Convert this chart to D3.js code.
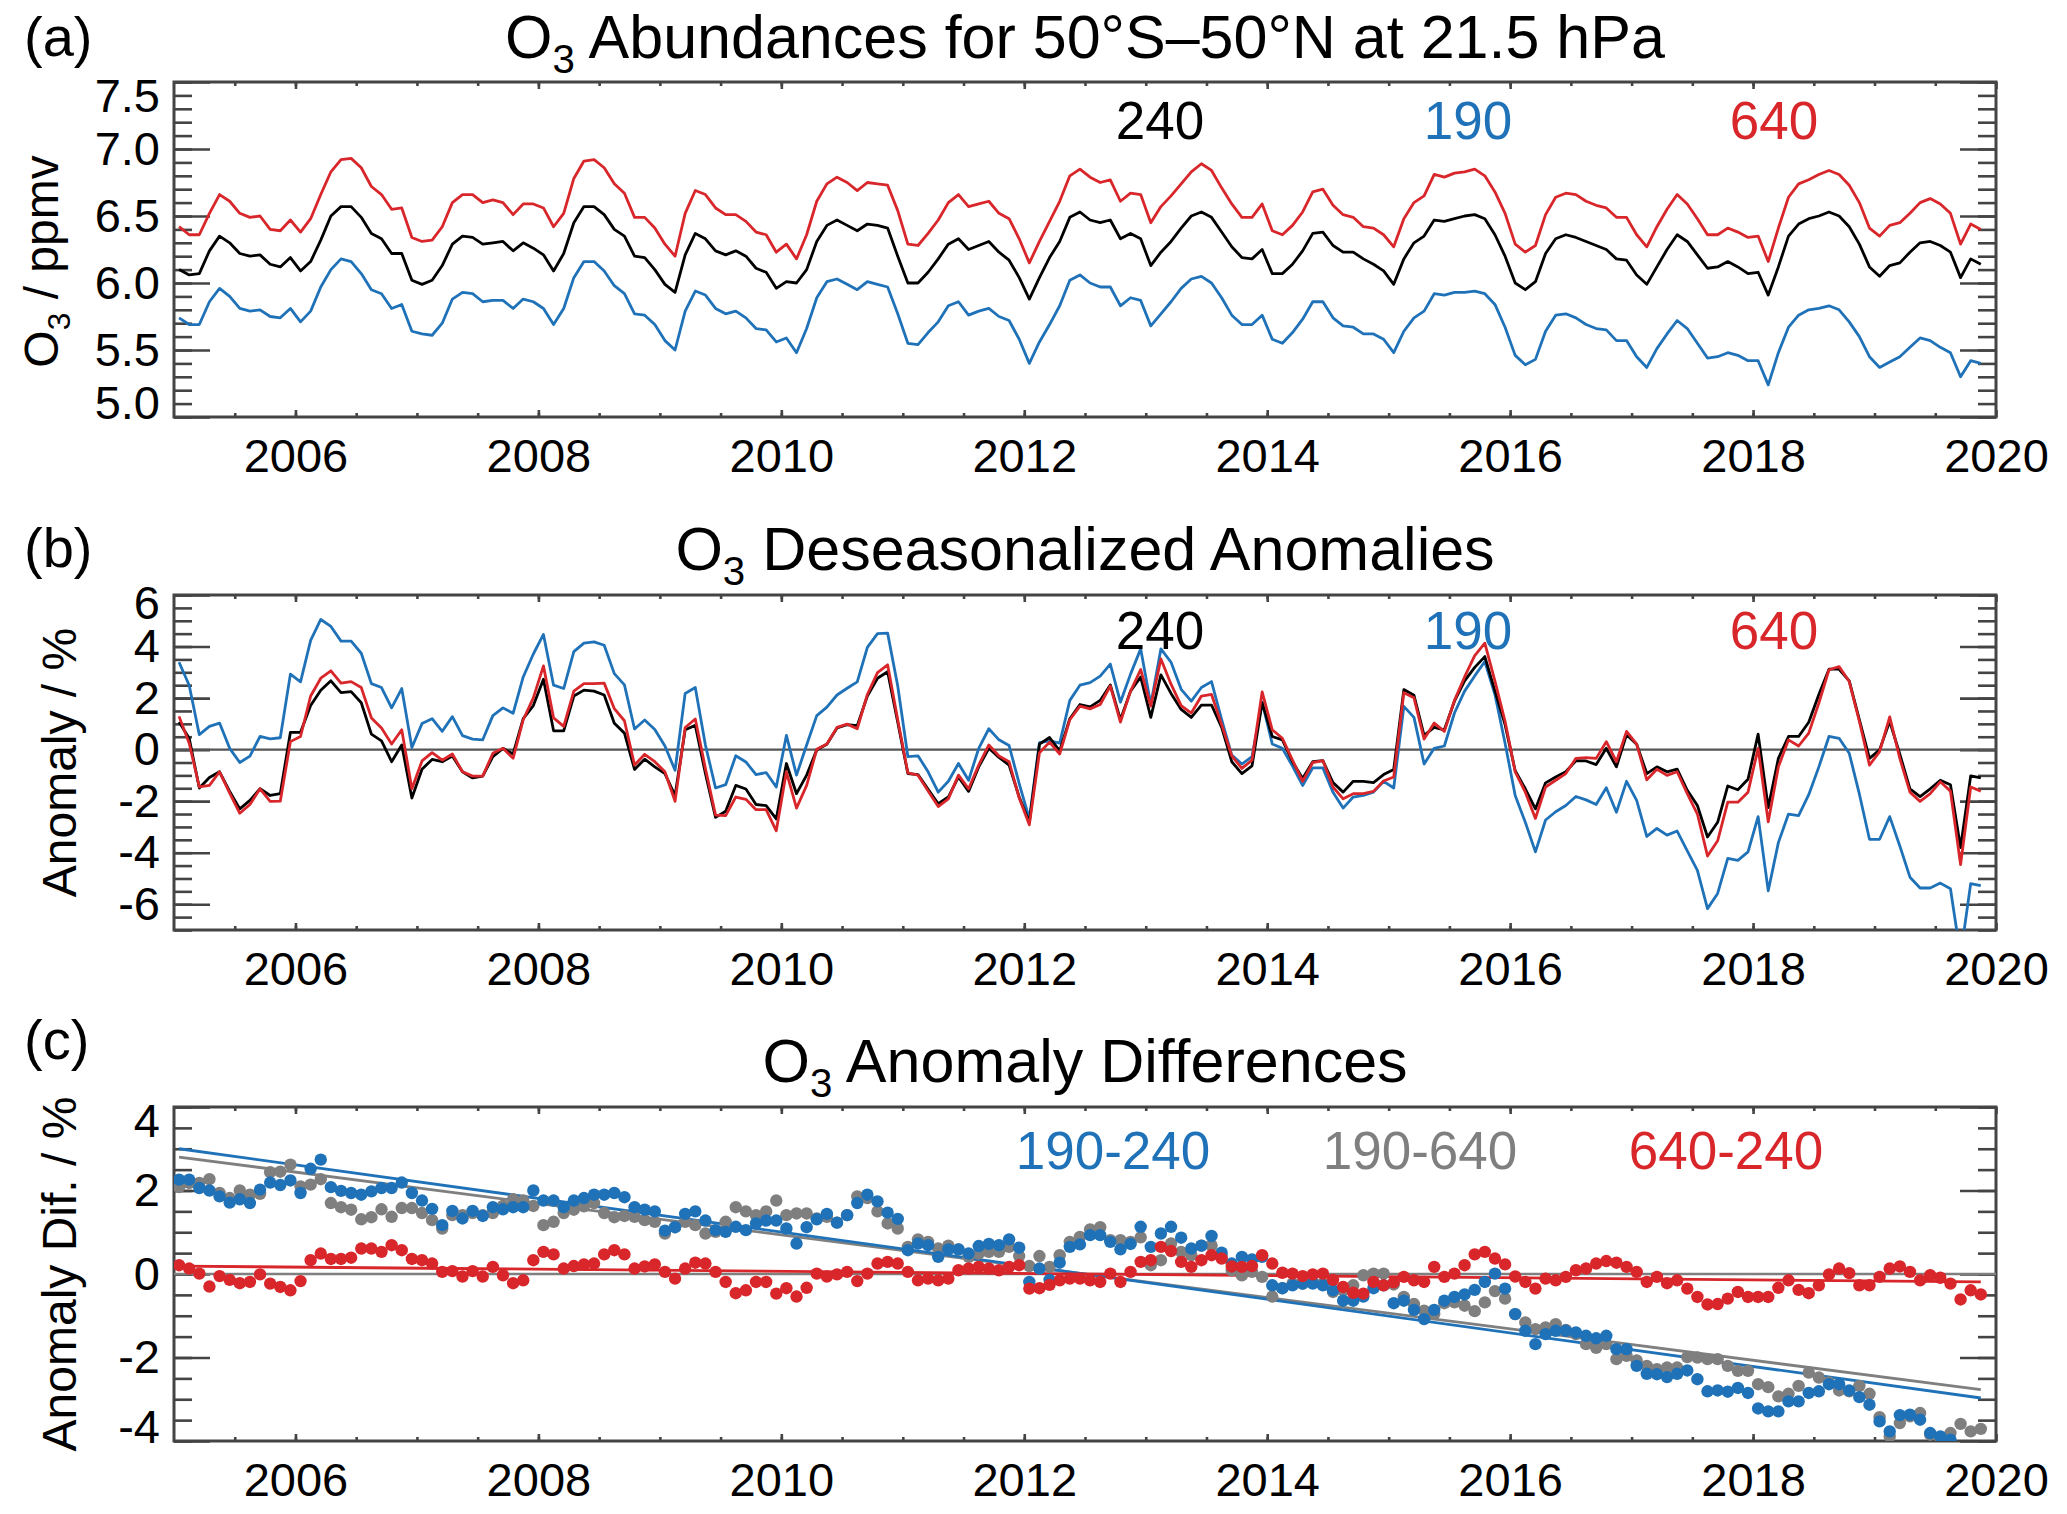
<!DOCTYPE html>
<html>
<head>
<meta charset="utf-8">
<script src="https://cdn.jsdelivr.net/npm/d3@7"></script>
<style>
  body { margin: 0; background: #fff; }
  svg { display: block; font-family: "Liberation Sans", Arial, Helvetica, sans-serif; }
</style>
</head>
<body>
<svg id="vis" width="2067" height="1514"></svg>
<script>
// monthly data, Jan 2005 .. Nov 2019 (179 months)
const startYear = 2005;
const nMonths = 179;

// (a) O3 abundances, ppmv
const abund240 = [6.10,6.06,6.07,6.24,6.35,6.30,6.22,6.20,6.21,6.14,6.12,6.19,6.09,6.16,6.32,6.50,6.57,6.57,6.49,6.37,
  6.33,6.22,6.22,6.02,5.99,6.02,6.13,6.29,6.35,6.34,6.29,6.30,6.31,6.24,6.30,6.26,6.21,6.09,6.22,6.45,
  6.57,6.57,6.51,6.40,6.35,6.20,6.19,6.10,5.99,5.93,6.21,6.37,6.33,6.24,6.21,6.24,6.20,6.11,6.08,5.96,
  6.01,6.00,6.10,6.31,6.43,6.47,6.43,6.39,6.44,6.43,6.41,6.20,6.00,6.00,6.08,6.18,6.29,6.33,6.25,6.28,
  6.31,6.23,6.17,6.04,5.88,6.04,6.19,6.31,6.49,6.53,6.47,6.45,6.47,6.33,6.37,6.33,6.13,6.23,6.31,6.41,
  6.50,6.53,6.49,6.38,6.27,6.19,6.18,6.25,6.07,6.07,6.14,6.24,6.37,6.38,6.28,6.23,6.23,6.18,6.14,6.09,
  5.99,6.18,6.30,6.35,6.47,6.46,6.48,6.50,6.51,6.48,6.36,6.20,6.00,5.95,6.01,6.22,6.33,6.36,6.34,6.31,
  6.28,6.25,6.18,6.17,6.06,5.99,6.12,6.25,6.36,6.31,6.21,6.11,6.12,6.16,6.12,6.07,6.08,5.91,6.12,6.35,
  6.44,6.48,6.50,6.53,6.50,6.42,6.29,6.12,6.05,6.13,6.15,6.23,6.30,6.31,6.28,6.23,6.04,6.18,6.14];
const abund190 = [5.74,5.69,5.69,5.86,5.96,5.90,5.81,5.79,5.80,5.75,5.74,5.81,5.71,5.79,5.97,6.10,6.18,6.16,6.07,5.95,
  5.92,5.81,5.84,5.64,5.62,5.61,5.70,5.88,5.93,5.92,5.86,5.87,5.87,5.81,5.88,5.86,5.81,5.69,5.81,6.04,
  6.16,6.16,6.09,5.98,5.92,5.77,5.76,5.69,5.57,5.50,5.79,5.94,5.91,5.81,5.77,5.79,5.74,5.66,5.65,5.56,
  5.59,5.48,5.66,5.89,6.01,6.03,5.99,5.95,6.01,5.99,5.97,5.77,5.55,5.54,5.63,5.71,5.83,5.86,5.76,5.79,
  5.81,5.75,5.72,5.58,5.40,5.56,5.69,5.83,6.02,6.06,6.00,5.97,5.97,5.83,5.89,5.87,5.68,5.77,5.86,5.96,
  6.03,6.05,6.00,5.89,5.76,5.69,5.69,5.76,5.58,5.55,5.63,5.73,5.86,5.86,5.74,5.68,5.67,5.62,5.62,5.58,
  5.48,5.64,5.74,5.79,5.92,5.91,5.93,5.93,5.94,5.92,5.84,5.67,5.46,5.39,5.43,5.64,5.76,5.77,5.74,5.69,
  5.66,5.65,5.57,5.57,5.45,5.37,5.51,5.62,5.72,5.66,5.55,5.44,5.45,5.48,5.46,5.42,5.42,5.24,5.48,5.67,
  5.76,5.80,5.81,5.83,5.80,5.71,5.60,5.45,5.37,5.41,5.45,5.52,5.59,5.57,5.52,5.48,5.30,5.42,5.40];
const abund640 = [6.42,6.36,6.36,6.52,6.66,6.61,6.52,6.49,6.50,6.40,6.39,6.47,6.38,6.48,6.66,6.83,6.92,6.93,6.86,6.72,
  6.66,6.55,6.56,6.34,6.31,6.32,6.42,6.60,6.66,6.66,6.60,6.62,6.60,6.51,6.59,6.59,6.56,6.42,6.52,6.78,
  6.91,6.92,6.86,6.74,6.67,6.49,6.49,6.41,6.29,6.20,6.52,6.69,6.66,6.56,6.51,6.51,6.46,6.38,6.36,6.23,
  6.29,6.18,6.36,6.61,6.74,6.79,6.75,6.69,6.75,6.74,6.73,6.54,6.29,6.28,6.37,6.47,6.60,6.66,6.57,6.59,
  6.61,6.52,6.48,6.33,6.15,6.31,6.46,6.61,6.80,6.85,6.79,6.75,6.77,6.61,6.67,6.66,6.45,6.57,6.65,6.74,
  6.83,6.89,6.84,6.71,6.59,6.49,6.49,6.59,6.39,6.36,6.43,6.53,6.68,6.70,6.58,6.51,6.49,6.42,6.41,6.36,
  6.27,6.48,6.60,6.65,6.81,6.79,6.82,6.83,6.85,6.80,6.68,6.52,6.29,6.23,6.28,6.51,6.64,6.67,6.66,6.61,
  6.58,6.56,6.49,6.49,6.36,6.27,6.42,6.55,6.66,6.59,6.48,6.36,6.36,6.41,6.38,6.34,6.35,6.16,6.41,6.64,
  6.74,6.77,6.81,6.84,6.81,6.73,6.60,6.41,6.35,6.43,6.45,6.52,6.60,6.63,6.59,6.52,6.29,6.44,6.40];

// (b) deseasonalized anomalies, %
const anom240 = [1.07,0.44,-1.49,-1.08,-0.86,-1.62,-2.30,-1.97,-1.52,-1.78,-1.71,0.67,0.67,1.71,2.30,2.67,2.21,2.25,1.82,0.60,
  0.34,-0.47,0.18,-1.88,-0.76,-0.38,-0.47,-0.25,-0.86,-1.10,-1.03,-0.27,0.05,-0.17,1.20,1.71,2.73,0.73,0.73,2.08,
  2.31,2.27,2.12,1.02,0.64,-0.77,-0.37,-0.67,-0.93,-1.78,0.77,0.94,-0.93,-2.63,-2.39,-1.39,-1.53,-2.13,-2.17,-2.69,
  -0.54,-1.71,-0.99,-0.01,0.21,0.84,0.97,0.93,2.08,2.77,3.02,1.06,-0.93,-0.97,-1.54,-2.10,-1.84,-1.06,-1.62,-0.67,
  0.05,-0.30,-0.60,-1.84,-2.82,0.21,0.47,-0.05,1.20,1.75,1.66,1.91,2.51,1.16,2.27,2.82,1.25,2.90,2.18,1.56,
  1.25,1.73,1.73,0.86,-0.47,-0.93,-0.63,1.82,0.51,0.38,-0.47,-1.12,-0.47,-0.43,-1.28,-1.65,-1.23,-1.23,-1.28,-0.97,
  -0.77,2.33,2.11,0.55,0.86,0.77,1.88,2.67,3.19,3.61,2.27,0.97,-0.82,-1.52,-2.30,-1.29,-1.06,-0.86,-0.43,-0.44,
  -0.58,0.05,-0.67,0.58,0.21,-0.93,-0.67,-0.86,-0.76,-1.58,-2.17,-3.39,-2.82,-1.41,-1.56,-1.15,0.60,-2.25,-0.34,0.51,
  0.51,1.06,2.14,3.12,3.12,2.67,1.16,-0.34,-0.01,1.10,-0.18,-1.52,-1.82,-1.52,-1.19,-1.36,-3.80,-1.02,-1.10];
const anom190 = [3.39,2.50,0.58,0.90,1.03,0.05,-0.50,-0.25,0.51,0.42,0.46,2.93,2.63,4.24,5.05,4.78,4.21,4.21,3.74,2.56,
  2.41,1.62,2.37,0.08,1.01,1.20,0.71,1.28,0.54,0.41,0.38,1.32,1.62,1.41,2.82,3.71,4.47,2.50,2.37,3.80,
  4.13,4.18,4.05,2.95,2.51,0.80,1.15,0.78,0.14,-0.80,2.18,2.41,0.18,-1.49,-1.36,-0.24,-0.48,-0.97,-0.89,-1.45,
  0.55,-0.99,0.18,1.32,1.65,2.12,2.38,2.63,3.97,4.50,4.52,2.47,-0.27,-0.24,-0.86,-1.65,-1.23,-0.54,-1.19,0.05,
  0.81,0.38,0.16,-1.32,-2.69,0.27,0.34,0.25,1.91,2.50,2.60,2.85,3.32,1.84,2.93,3.91,1.75,3.91,3.39,2.34,
  1.88,2.41,2.64,1.16,-0.21,-0.56,-0.27,1.84,0.22,0.05,-0.64,-1.39,-0.71,-0.71,-1.65,-2.27,-1.84,-1.78,-1.65,-1.23,
  -1.49,1.68,1.25,-0.56,0.05,0.14,1.42,2.27,2.86,3.42,2.14,0.25,-1.78,-2.82,-3.97,-2.73,-2.41,-2.17,-1.82,-1.95,
  -2.13,-1.48,-2.43,-1.23,-1.97,-3.37,-3.06,-3.32,-3.16,-3.93,-4.69,-6.17,-5.58,-4.22,-4.30,-3.97,-2.60,-5.48,-3.61,-2.50,
  -2.56,-1.75,-0.67,0.51,0.44,-0.14,-1.72,-3.48,-3.48,-2.60,-3.74,-4.95,-5.37,-5.37,-5.18,-5.40,-8.00,-5.20,-5.28];
const anom640 = [1.29,0.25,-1.45,-1.39,-0.86,-1.69,-2.47,-2.13,-1.52,-2.01,-2.00,0.31,0.51,2.08,2.77,3.06,2.58,2.64,2.41,1.23,
  0.84,0.22,0.77,-1.52,-0.44,-0.12,-0.41,-0.17,-0.86,-1.03,-1.03,-0.14,0.05,-0.34,1.16,2.01,3.25,1.23,0.90,2.27,
  2.56,2.56,2.58,1.59,1.12,-0.60,-0.18,-0.47,-0.86,-2.01,0.86,1.19,-0.73,-2.54,-2.56,-1.84,-1.93,-2.33,-2.33,-3.15,
  -0.86,-2.27,-1.39,0.01,0.22,0.86,0.99,0.81,2.14,2.99,3.29,1.16,-0.90,-0.99,-1.61,-2.21,-1.91,-0.99,-1.52,-0.60,
  0.18,-0.25,-0.47,-1.88,-2.92,-0.12,0.29,-0.17,1.16,1.69,1.58,1.75,2.47,1.07,2.27,3.11,1.69,3.52,2.54,1.71,
  1.42,2.08,2.14,0.97,-0.24,-0.73,-0.41,2.24,0.77,0.44,-0.41,-1.23,-0.50,-0.43,-1.45,-1.91,-1.71,-1.71,-1.62,-1.22,
  -1.06,2.21,2.01,0.41,1.03,0.71,1.91,2.82,3.65,4.13,2.66,1.10,-0.86,-1.65,-2.67,-1.45,-1.19,-0.93,-0.34,-0.31,
  -0.34,0.31,-0.47,0.71,0.21,-1.17,-0.76,-1.00,-0.86,-1.71,-2.50,-4.13,-3.54,-2.04,-2.04,-1.65,0.05,-2.80,-0.67,0.38,
  0.14,0.64,1.81,3.10,3.22,2.64,1.10,-0.60,-0.08,1.27,-0.34,-1.65,-2.01,-1.71,-1.25,-1.61,-4.46,-1.45,-1.61];

// (c) anomaly differences, %
const dif190_240 = [2.26,2.26,2.06,2.00,1.86,1.71,1.79,1.70,2.02,2.19,2.13,2.24,1.94,2.52,2.74,2.08,1.99,1.94,1.90,1.98,
  2.06,2.06,2.19,1.94,1.76,1.56,1.17,1.51,1.33,1.51,1.39,1.60,1.55,1.60,1.60,2.00,1.76,1.76,1.60,1.76,
  1.82,1.90,1.90,1.94,1.84,1.60,1.54,1.50,1.04,1.12,1.44,1.50,1.28,1.05,1.01,1.13,1.05,1.21,1.28,1.28,
  1.09,0.73,1.12,1.31,1.44,1.23,1.41,1.70,1.90,1.74,1.47,1.32,0.57,0.73,0.69,0.41,0.59,0.59,0.49,0.67,
  0.72,0.69,0.83,0.63,-0.19,0.13,-0.14,0.27,0.65,0.71,0.93,0.93,0.77,0.59,0.72,1.13,0.65,0.97,1.13,0.87,
  0.61,0.68,0.91,0.51,0.25,0.41,0.35,0.41,-0.27,-0.34,-0.27,-0.23,-0.23,-0.27,-0.39,-0.64,-0.64,-0.54,-0.34,-0.27,
  -0.70,-0.64,-0.86,-1.08,-0.86,-0.64,-0.55,-0.49,-0.38,-0.19,0.01,-0.35,-0.96,-1.36,-1.68,-1.44,-1.36,-1.36,-1.40,-1.48,
  -1.54,-1.48,-1.80,-1.80,-2.20,-2.39,-2.40,-2.47,-2.39,-2.31,-2.52,-2.81,-2.79,-2.82,-2.73,-2.85,-3.22,-3.29,-3.29,-3.05,
  -3.05,-2.85,-2.81,-2.64,-2.64,-2.79,-2.95,-3.13,-3.53,-3.77,-3.38,-3.37,-3.49,-3.81,-3.89,-3.97,-4.20,-4.30,-4.30];
const dif190_640 = [2.08,2.18,2.18,2.27,1.94,1.82,2.00,1.90,1.92,2.44,2.45,2.62,2.10,2.14,2.27,1.70,1.60,1.54,1.31,1.36,
  1.55,1.37,1.58,1.58,1.46,1.29,1.09,1.41,1.41,1.46,1.41,1.46,1.63,1.79,1.76,1.63,1.17,1.25,1.46,1.54,
  1.62,1.70,1.46,1.36,1.39,1.37,1.29,1.25,0.97,1.12,1.25,1.17,0.97,1.01,1.25,1.60,1.50,1.41,1.50,1.76,
  1.41,1.45,1.45,1.33,1.37,1.23,1.41,1.86,1.82,1.50,1.21,1.09,0.65,0.83,0.77,0.61,0.68,0.59,0.41,0.49,
  0.53,0.53,0.65,0.43,0.19,0.43,0.17,0.45,0.77,0.89,1.07,1.12,0.81,0.81,0.77,0.88,0.21,0.33,0.73,0.53,
  0.45,0.68,0.68,0.41,0.09,-0.03,0.05,-0.07,-0.54,-0.34,-0.23,-0.23,-0.19,-0.23,-0.43,-0.39,-0.27,-0.03,0.01,0.01,
  -0.25,-0.55,-0.72,-0.88,-0.96,-0.70,-0.68,-0.76,-0.89,-0.68,-0.41,-0.59,-0.96,-1.16,-1.32,-1.28,-1.20,-1.34,-1.44,-1.68,
  -1.77,-1.68,-2.04,-1.96,-2.07,-2.20,-2.28,-2.24,-2.24,-1.99,-2.00,-2.04,-2.04,-2.20,-2.32,-2.32,-2.64,-2.71,-2.93,-2.87,
  -2.68,-2.36,-2.48,-2.60,-2.79,-2.81,-2.68,-2.87,-3.43,-3.89,-3.57,-3.41,-3.33,-3.85,-3.93,-3.81,-3.59,-3.77,-3.71];
const dif640_240 = [0.21,0.13,0.01,-0.30,-0.05,-0.14,-0.22,-0.19,-0.01,-0.23,-0.31,-0.39,-0.17,0.33,0.49,0.36,0.36,0.39,0.61,0.61,
  0.53,0.69,0.57,0.36,0.33,0.25,0.05,0.07,-0.06,0.07,-0.06,0.17,-0.03,-0.22,-0.15,0.33,0.53,0.47,0.13,0.19,
  0.23,0.25,0.47,0.57,0.47,0.13,0.18,0.23,0.05,-0.11,0.13,0.27,0.25,0.05,-0.19,-0.46,-0.39,-0.19,-0.19,-0.47,
  -0.34,-0.54,-0.33,0.01,-0.06,-0.01,0.05,-0.17,0.01,0.25,0.29,0.25,0.05,-0.15,-0.11,-0.15,-0.11,0.09,0.13,0.17,
  0.13,0.09,0.17,0.21,-0.35,-0.34,-0.26,-0.15,-0.11,-0.11,-0.15,-0.19,0.01,-0.19,0.05,0.29,0.33,0.65,0.55,0.29,
  0.17,0.33,0.45,0.37,0.18,0.17,0.19,0.45,0.25,0.03,0.01,-0.05,-0.01,0.01,-0.14,-0.31,-0.45,-0.47,-0.19,-0.27,
  -0.20,-0.07,-0.15,-0.19,0.17,-0.07,0.01,0.21,0.47,0.53,0.37,0.23,-0.06,-0.19,-0.35,-0.11,-0.15,-0.07,0.09,0.13,
  0.25,0.31,0.27,0.17,0.05,-0.19,-0.07,-0.22,-0.15,-0.35,-0.55,-0.73,-0.72,-0.59,-0.43,-0.55,-0.55,-0.55,-0.33,-0.15,
  -0.38,-0.46,-0.27,-0.01,0.13,0.02,-0.27,-0.27,-0.07,0.13,0.18,0.05,-0.15,-0.03,-0.09,-0.23,-0.61,-0.39,-0.49];

// linear fits in (c): value at first and last month
const trend190_240 = [3.00, -2.97];
const trend190_640 = [2.80, -2.77];
const trend640_240 = [0.19, -0.19];

// axes
const yearTicks = [2006, 2008, 2010, 2012, 2014, 2016, 2018, 2020];
const ticksA = [5.0, 5.5, 6.0, 6.5, 7.0, 7.5];
const ticksB = [-6, -4, -2, 0, 2, 4, 6];
const ticksC = [-4, -2, 0, 2, 4];

const BLUE = "#1f72b8", RED = "#d8262b", BLACK = "#000", GRAY = "#7f7f7f";
const AXIS = "#444";
const FONT = '"Liberation Sans", Arial, Helvetica, sans-serif';

const months = d3.range(nMonths).map(i => startYear + (i + 0.5) / 12);
const svg = d3.select("#vis");
const x = d3.scaleLinear().domain([2005, 2020]).range([174, 1996]);
const [x0, x1] = x.range();

// text with a subscript "3" after the first character
function o3Text(g, px, py, rest, size, attrs) {
  const t = g.append("text").attr("x", px).attr("y", py)
    .attr("font-size", size).attr("fill", "#000");
  Object.entries(attrs || {}).forEach(([k, v]) => t.attr(k, v));
  t.append("tspan").text("O");
  t.append("tspan").attr("font-size", size * 0.66).attr("dy", size * 0.24).text("3");
  t.append("tspan").attr("dy", -size * 0.24).text(rest);
  return t;
}

function panel(opt) {
  const y = d3.scaleLinear().domain(opt.domain).range([opt.bottom, opt.top]);
  const g = svg.append("g");
  const minorY = d3.range(Math.round(opt.domain[0] / opt.minor), Math.round(opt.domain[1] / opt.minor) + 1)
    .map(k => +(k * opt.minor).toFixed(2));
  const minorX = d3.range(2005.5, 2020, 0.5);

  const clipId = "clip" + opt.name;
  svg.append("clipPath").attr("id", clipId).append("rect")
    .attr("x", x0).attr("y", opt.top).attr("width", x1 - x0).attr("height", opt.bottom - opt.top);

  const axes = g.append("g").attr("color", AXIS).attr("stroke-width", 2.6);
  const put = (axis, tx, ty) => axes.append("g")
    .attr("transform", `translate(${tx},${ty})`)
    .call(axis)
    .call(s => s.select(".domain").remove());

  put(d3.axisLeft(y).tickValues(minorY).tickSize(-18).tickFormat(""), x0, 0);
  put(d3.axisRight(y).tickValues(minorY).tickSize(-18).tickFormat(""), x1, 0);
  put(d3.axisRight(y).tickValues(opt.ticks).tickSize(-36).tickFormat(""), x1, 0);
  const left = put(d3.axisLeft(y).tickValues(opt.ticks).tickSize(-36).tickPadding(14)
    .tickFormat(opt.fmt), x0, 0);
  put(d3.axisTop(x).tickValues(minorX).tickSize(-4).tickFormat(""), 0, opt.top);
  put(d3.axisTop(x).tickValues(yearTicks).tickSize(-7).tickFormat(""), 0, opt.top);
  put(d3.axisBottom(x).tickValues(minorX).tickSize(-4).tickFormat(""), 0, opt.bottom);
  const bottom = put(d3.axisBottom(x).tickValues(yearTicks).tickSize(-7).tickPadding(22)
    .tickFormat(d => String(d)), 0, opt.bottom);

  [left, bottom].forEach(a => a.attr("font-size", 47).attr("font-family", FONT)
    .selectAll("text").attr("fill", "#000"));
  // labels at the ends of the y range sit just inside the frame
  left.selectAll(".tick text").attr("transform", d =>
    d === opt.domain[1] ? `translate(0,${opt.nudge})` : d === opt.domain[0] ? `translate(0,${-opt.nudge})` : null);

  g.append("rect").attr("x", x0).attr("y", opt.top)
    .attr("width", x1 - x0).attr("height", opt.bottom - opt.top)
    .attr("fill", "none").attr("stroke", AXIS).attr("stroke-width", 3);

  const plot = g.append("g").attr("clip-path", `url(#${clipId})`);

  // panel letter, title, axis title
  g.append("text").attr("x", 24).attr("y", opt.letterY).attr("font-size", 56)
    .attr("fill", "#000").text(opt.letter);
  o3Text(g, (x0 + x1) / 2, opt.titleY, opt.title, 61, { "text-anchor": "middle" });
  const ylab = g.append("g")
    .attr("transform", `translate(${opt.ytitleX},${(opt.top + opt.bottom) / 2 + opt.ytitleDy}) rotate(-90)`);
  if (opt.yO3) o3Text(ylab, 0, 0, opt.ytitle, 48, { "text-anchor": "middle" });
  else ylab.append("text").attr("text-anchor", "middle").attr("font-size", 48)
    .attr("fill", "#000").text(opt.ytitle);

  // series labels
  opt.labels.forEach(([txt, cx, col]) => g.append("text")
    .attr("x", cx).attr("y", opt.labelY).attr("text-anchor", "middle")
    .attr("font-size", 53).attr("fill", col).text(txt));

  return { y, plot };
}

const line = y => d3.line().x((d, i) => x(months[i])).y(d => y(d));

// ---- (a)
const pa = panel({
  name: "a", top: 82, bottom: 417, domain: [5.0, 7.5], ticks: ticksA, minor: 0.1, nudge: 14,
  fmt: d3.format(".1f"), letter: "(a)", letterY: 56, titleY: 58,
  title: " Abundances for 50°S–50°N at 21.5 hPa", ytitle: " / ppmv", yO3: true,
  ytitleX: 58, ytitleDy: 12,
  labelY: 139, labels: [["240", 1160, BLACK], ["190", 1468, BLUE], ["640", 1774, RED]]
});
[[abund640, RED], [abund240, BLACK], [abund190, BLUE]].forEach(([s, c]) =>
  pa.plot.append("path").datum(s).attr("d", line(pa.y))
    .attr("fill", "none").attr("stroke", c).attr("stroke-width", 2.8).attr("stroke-linejoin", "round"));

// ---- (b)
const pb = panel({
  name: "b", top: 595, bottom: 930, domain: [-7, 6], ticks: ticksB, minor: 0.5, nudge: 8,
  fmt: d => String(d), letter: "(b)", letterY: 567, titleY: 570,
  title: " Deseasonalized Anomalies", ytitle: "Anomaly / %", yO3: false,
  ytitleX: 76, ytitleDy: 0,
  labelY: 649, labels: [["240", 1160, BLACK], ["190", 1468, BLUE], ["640", 1774, RED]]
});
pb.plot.append("line").attr("x1", x0).attr("x2", x1)
  .attr("y1", pb.y(0)).attr("y2", pb.y(0)).attr("stroke", "#555").attr("stroke-width", 2.2);
[[anom190, BLUE], [anom240, BLACK], [anom640, RED]].forEach(([s, c]) =>
  pb.plot.append("path").datum(s).attr("d", line(pb.y))
    .attr("fill", "none").attr("stroke", c).attr("stroke-width", 2.8).attr("stroke-linejoin", "round"));

// ---- (c)
const pc = panel({
  name: "c", top: 1107, bottom: 1441, domain: [-4, 4], ticks: ticksC, minor: 0.5, nudge: 14,
  fmt: d => String(d), letter: "(c)", letterY: 1059, titleY: 1082,
  title: " Anomaly Differences", ytitle: "Anomaly Dif. / %", yO3: false,
  ytitleX: 76, ytitleDy: 0,
  labelY: 1169, labels: [["190-240", 1113, BLUE], ["190-640", 1420, GRAY], ["640-240", 1726, RED]]
});
pc.plot.append("line").attr("x1", x0).attr("x2", x1)
  .attr("y1", pc.y(0)).attr("y2", pc.y(0)).attr("stroke", GRAY).attr("stroke-width", 2.4);
// fit lines sit under the dots
[[trend190_640, GRAY], [trend190_240, BLUE], [trend640_240, RED]].forEach(([t, c]) =>
  pc.plot.append("line")
    .attr("x1", x(months[0])).attr("x2", x(months[nMonths - 1]))
    .attr("y1", pc.y(t[0])).attr("y2", pc.y(t[1]))
    .attr("stroke", c).attr("stroke-width", 2.8));
[[dif190_640, GRAY], [dif190_240, BLUE], [dif640_240, RED]].forEach(([s, c]) =>
  pc.plot.append("g").selectAll("circle").data(s).join("circle")
    .attr("cx", (d, i) => x(months[i])).attr("cy", d => pc.y(d))
    .attr("r", 6.2).attr("fill", c));
</script>
</body>
</html>
